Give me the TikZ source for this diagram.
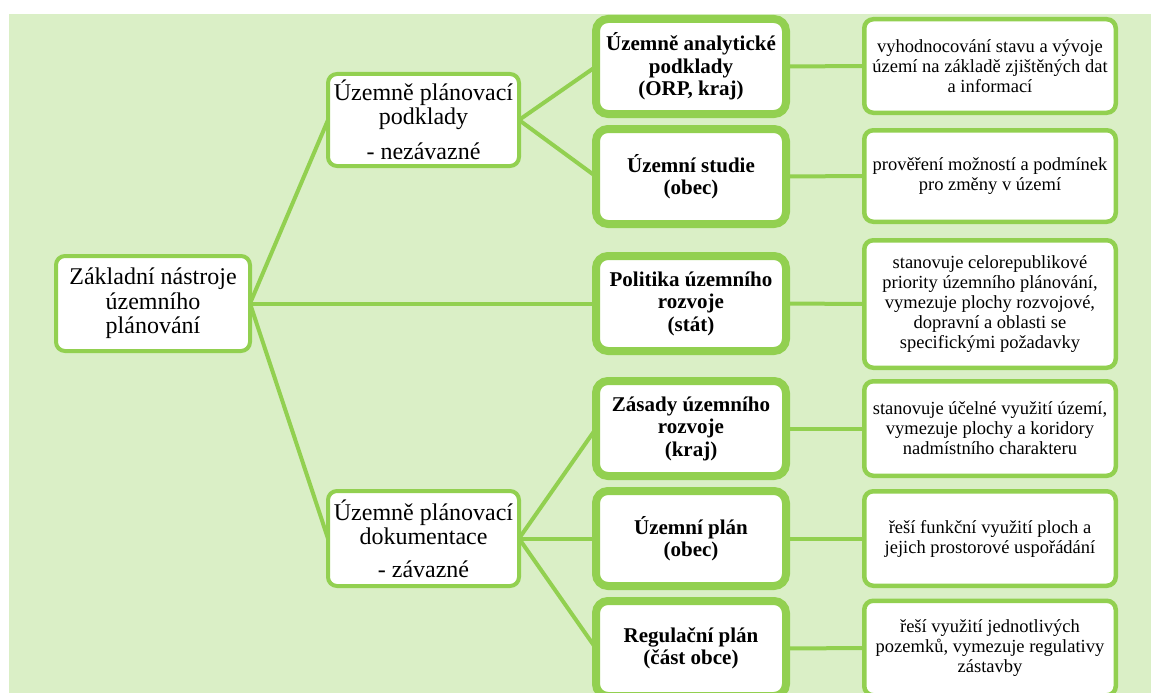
\documentclass[tikz,border=0pt]{standalone}
\usepackage{fontspec}
\setmainfont{Liberation Serif}
\usetikzlibrary{backgrounds}
\definecolor{bggreen}{RGB}{218,239,198}
\definecolor{lgreen}{RGB}{146,208,80}
\tikzset{
  base/.style={draw=lgreen, fill=white, rounded corners=9pt, align=center, inner sep=0pt, outer sep=0pt},
  rootbox/.style={base, line width=4pt, minimum width=194pt, minimum height=95pt, font=\fontsize{24}{24.5}\selectfont},
  midbox/.style={base, line width=4pt, minimum width=191pt, font=\fontsize{24}{24}\selectfont},
  keybox/.style={base, line width=8pt, rounded corners=12pt, minimum width=190pt, minimum height=95pt, font=\bfseries\fontsize{21}{22.5}\selectfont},
  descbox/.style={base, line width=4.5pt, minimum width=251.5pt, font=\fontsize{18.5}{20}\selectfont},
  link/.style={draw=lgreen, line width=4pt},
}
\begin{document}
\begin{tikzpicture}[x=1pt,y=-1pt]
\useasboundingbox (0,0) rectangle (1151,693);
% level 0 and 1
\node[rootbox] (root) at (153,303.5) {Základní nástroje\\územního\\plánování};
\node[midbox, minimum height=92pt] (m1) at (423.5,120) {Územně plánovací\\podklady\\[11pt]- nezávazné};
\node[midbox, minimum height=95pt] (m2) at (423.5,538.5) {Územně plánovací\\dokumentace\\[9pt]- závazné};
% level 2
\node[keybox] (k1) at (691,66.5) {Územně analytické\\podklady\\(ORP, kraj)};
\node[keybox] (k2) at (691,176.5) {Územní studie\\(obec)};
\node[keybox] (k3) at (691,303.5) {Politika územního\\rozvoje\\(stát)};
\node[keybox] (k4) at (691,428.5) {Zásady územního\\rozvoje\\(kraj)};
\node[keybox] (k5) at (691,538.5) {Územní plán\\(obec)};
\node[keybox] (k6) at (691,648.5) {Regulační plán\\(část obce)};
% level 3
\node[descbox, minimum height=93.5pt] (d1) at (990,66) {vyhodnocování stavu a vývoje\\území na základě zjištěných dat\\a informací};
\node[descbox, minimum height=91.5pt] (d2) at (990,176) {prověření možností a podmínek\\pro změny v území};
\node[descbox, minimum height=127.5pt] (d3) at (990,304) {stanovuje celorepublikové\\priority územního plánování,\\vymezuje plochy rozvojové,\\dopravní a oblasti se\\specifickými požadavky};
\node[descbox, minimum height=94.5pt] (d4) at (990,428.5) {stanovuje účelné využití území,\\vymezuje plochy a koridory\\nadmístního charakteru};
\node[descbox, minimum height=94.5pt] (d5) at (990,538.5) {řeší funkční využití ploch a\\jejich prostorové uspořádání};
\node[descbox, minimum height=94.5pt] (d6) at (990,648) {řeší využití jednotlivých\\pozemků, vymezuje regulativy\\zástavby};
\begin{scope}[on background layer]
  \fill[bggreen] (9,14) rectangle (1151,693);
  \draw[link] (root.east) -- (m1.west);
  \draw[link] (root.east) -- (k3.west);
  \draw[link] (root.east) -- (m2.west);
  \draw[link] (m1.east) -- (k1.west);
  \draw[link] (m1.east) -- (k2.west);
  \draw[link] (m2.east) -- (k4.west);
  \draw[link] (m2.east) -- (k5.west);
  \draw[link] (m2.east) -- (k6.west);
  \foreach \i in {1,...,6} { \draw[link] (k\i.east) -- (d\i.west); }
\end{scope}
\end{tikzpicture}
\end{document}
